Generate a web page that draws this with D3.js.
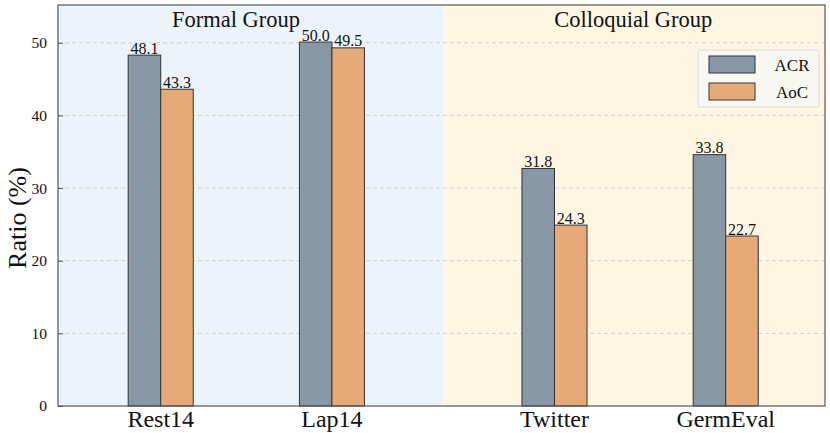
<!DOCTYPE html>
<html>
<head>
<meta charset="utf-8">
<script src="https://cdn.jsdelivr.net/npm/d3@7"></script>
<style>
  body { margin: 0; background: #fff; }
  text { font-family: "Liberation Serif", "DejaVu Serif", serif; fill: #111; }
</style>
</head>
<body>
<script>
const width = 830;
const height = 433;

// data
const datasets = ['Rest14', 'Lap14', 'Twitter', 'GermEval'];
const groupOf = ['Formal Group', 'Formal Group', 'Colloquial Group', 'Colloquial Group'];
const groups = ['Formal Group', 'Colloquial Group'];
const series = ['ACR', 'AoC'];
const acrHeights = [48.3, 50.1, 32.7, 34.6];
const aocHeights = [43.6, 49.3, 24.9, 23.4];
const acrLabels = ['48.1', '50.0', '31.8', '33.8'];
const aocLabels = ['43.3', '49.5', '24.3', '22.7'];
const yTicks = [0, 10, 20, 30, 40, 50];

const colors = { ACR: '#8797a6', AoC: '#e6aa79' };
const groupBg = { 'Formal Group': '#edf3fb', 'Colloquial Group': '#fff7e4' };

const margin = { left: 58, right: 5, top: 5, bottom: 27 };
const svg = d3.select('body')
  .append('svg')
  .attr('width', width)
  .attr('height', height);

// x position: index, plus an extra gap between the two groups
const groupGap = 0.3;
const pos = datasets.map((d, i) => i + (groups.indexOf(groupOf[i]) * groupGap));
const x = d3.scaleLinear()
  .domain([-0.6, 3.88])
  .range([margin.left, width - margin.right]);
const y = d3.scaleLinear()
  .domain([0, 55.2])
  .range([height - margin.bottom, margin.top]);
const barW = 0.19;

// group backgrounds
const split = (pos[1] + pos[2]) / 2;
const bgSpans = [
  { g: groups[0], x0: x.domain()[0], x1: split, tx: 0.44 },
  { g: groups[1], x0: split, x1: x.domain()[1], tx: 2.76 }
];
svg.selectAll('rect.bg').data(bgSpans).join('rect')
  .attr('class', 'bg')
  .attr('x', d => x(d.x0))
  .attr('width', d => x(d.x1) - x(d.x0))
  .attr('y', y.range()[1])
  .attr('height', y.range()[0] - y.range()[1])
  .attr('fill', d => groupBg[d.g]);

// grid
svg.selectAll('line.grid').data(yTicks.filter(t => t > 0)).join('line')
  .attr('class', 'grid')
  .attr('x1', x.range()[0]).attr('x2', x.range()[1])
  .attr('y1', d => y(d)).attr('y2', d => y(d))
  .attr('stroke', '#c8c8c8')
  .attr('stroke-width', 0.8)
  .attr('stroke-dasharray', '4,3');

// group titles
svg.selectAll('text.gtitle').data(bgSpans).join('text')
  .attr('class', 'gtitle')
  .attr('x', d => x(d.tx))
  .attr('y', 27)
  .attr('text-anchor', 'middle')
  .attr('font-size', 22.5)
  .text(d => d.g);

// bars
const bars = [];
datasets.forEach((d, i) => {
  bars.push({ s: 'ACR', c: pos[i] - barW / 2, v: acrHeights[i], label: acrLabels[i] });
  bars.push({ s: 'AoC', c: pos[i] + barW / 2, v: aocHeights[i], label: aocLabels[i] });
});
svg.selectAll('rect.bar').data(bars).join('rect')
  .attr('class', 'bar')
  .attr('x', d => x(d.c - barW / 2))
  .attr('width', d => x(d.c + barW / 2) - x(d.c - barW / 2))
  .attr('y', d => y(d.v))
  .attr('height', d => y(0) - y(d.v))
  .attr('fill', d => colors[d.s])
  .attr('stroke', '#333')
  .attr('stroke-width', 1);

svg.selectAll('text.blabel').data(bars).join('text')
  .attr('class', 'blabel')
  .attr('x', d => x(d.c))
  .attr('y', d => y(d.v) - 1.5)
  .attr('text-anchor', 'middle')
  .attr('font-size', 16)
  .text(d => d.label);

// frame
svg.append('rect')
  .attr('x', x.range()[0]).attr('y', y.range()[1])
  .attr('width', x.range()[1] - x.range()[0])
  .attr('height', y.range()[0] - y.range()[1])
  .attr('fill', 'none')
  .attr('stroke', '#555')
  .attr('stroke-width', 1.2);

// y axis
const yAxis = d3.axisLeft(y).tickValues(yTicks).tickSizeInner(-5).tickSizeOuter(0).tickPadding(11);
const yg = svg.append('g').attr('transform', `translate(${x.range()[0]},0)`).call(yAxis);
yg.select('.domain').remove();
yg.selectAll('line').attr('stroke', '#555');
yg.selectAll('text').attr('font-size', 15.5).attr('font-family', '"Liberation Serif", serif').attr('fill', '#111');

// x labels
svg.selectAll('text.xlabel').data(datasets).join('text')
  .attr('class', 'xlabel')
  .attr('x', (d, i) => x(pos[i]))
  .attr('y', 427)
  .attr('text-anchor', 'middle')
  .attr('font-size', 24)
  .text(d => d);

// y title
svg.append('text')
  .attr('transform', 'translate(26,218) rotate(-90)')
  .attr('text-anchor', 'middle')
  .attr('font-size', 26)
  .text('Ratio (%)');

// legend
const lg = svg.append('g').attr('transform', 'translate(698,50)');
lg.append('rect')
  .attr('width', 121).attr('height', 57)
  .attr('fill', '#f8f8f2')
  .attr('stroke', '#d8d8d8')
  .attr('rx', 1.5);
series.forEach((s, i) => {
  lg.append('rect')
    .attr('x', 11).attr('y', 6 + i * 27)
    .attr('width', 46).attr('height', 17)
    .attr('fill', colors[s])
    .attr('stroke', '#333')
    .attr('stroke-width', 1);
  lg.append('text')
    .attr('x', 94).attr('y', 21 + i * 27)
    .attr('text-anchor', 'middle')
    .attr('font-size', 17)
    .text(s);
});
</script>
</body>
</html>
